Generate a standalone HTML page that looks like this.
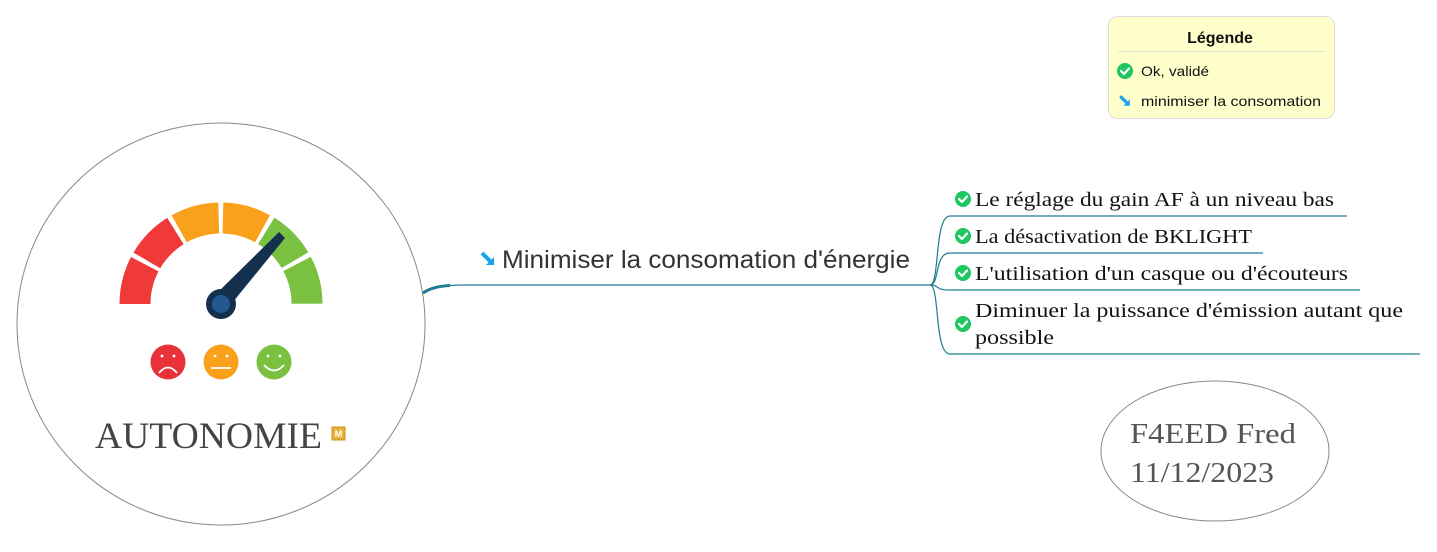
<!DOCTYPE html>
<html><head><meta charset="utf-8"><style>
html,body{margin:0;padding:0;background:#fff;}
svg{display:block}
</style></head><body>
<svg width="1437" height="552" viewBox="0 0 1437 552" xmlns="http://www.w3.org/2000/svg">
<defs>
<g id="chk"><circle r="8" fill="#1ec761"/><path d="M-4,0 L-1,3 L4,-2.5" fill="none" stroke="#fff" stroke-width="2.2" stroke-linecap="round" stroke-linejoin="round"/></g>
<g id="arr"><path d="M-6,-6 L3,3" stroke="#1aa3e8" stroke-width="4"/><path d="M-2,6 L6,6 L6,-2 Z" fill="#1aa3e8"/></g>
</defs>
<ellipse cx="221" cy="324" rx="204" ry="201" fill="#fff" stroke="#888" stroke-width="1"/>
<!-- gauge -->
<g fill="none" stroke-width="31">
<path d="M135,304 A86,86 0 0 1 307,304" pathLength="180" stroke="#f03a3a" stroke-dasharray="27.6 2.88 27.6 400"/>
<path d="M135,304 A86,86 0 0 1 307,304" pathLength="180" stroke="#f9a11b" stroke-dasharray="0 60.96 27.6 2.88 27.6 400"/>
<path d="M135,304 A86,86 0 0 1 307,304" pathLength="180" stroke="#7ac142" stroke-dasharray="0 121.92 27.6 2.88 27.6 400"/>
</g>
<polygon points="214,296 228,308 285,238 279,232" fill="#14304f"/>
<circle cx="221" cy="304" r="15" fill="#14304f"/>
<circle cx="221" cy="304" r="9" fill="#24568f"/>
<circle cx="168" cy="362" r="17.5" fill="#e8323a"/>
<circle cx="221" cy="362" r="17.5" fill="#f9a11b"/>
<circle cx="274" cy="362" r="17.5" fill="#7ac142"/>
<g fill="#fff"><circle cx="162" cy="356" r="1.4"/><circle cx="174" cy="356" r="1.4"/><circle cx="215" cy="356" r="1.4"/><circle cx="227" cy="356" r="1.4"/><circle cx="268" cy="356" r="1.4"/><circle cx="280" cy="356" r="1.4"/></g>
<g fill="none" stroke="#fff" stroke-width="1.8"><path d="M159,373 Q168,362 177,373"/><path d="M211,368 L231,368"/><path d="M264,365 Q274,376 284,365"/></g>
<text x="95" y="448" font-family="Liberation Serif, serif" font-size="37" fill="#444" textLength="227" lengthAdjust="spacingAndGlyphs">AUTONOMIE</text>
<rect x="332" y="427" width="13" height="13" fill="#e8b23a" stroke="#c8901a"/>
<text x="338.5" y="437" font-family="Liberation Sans, sans-serif" font-size="9" font-weight="bold" fill="#fff" text-anchor="middle">M</text>
<!-- main branch -->
<path d="M423,293 C435,286 445,285 465,285 L930,285" fill="none" stroke="#1d7d95" stroke-width="1.3"/>
<path d="M423,293 C430,288 440,286 450,285.5" fill="none" stroke="#1d7d95" stroke-width="3"/>
<use href="#arr" x="488" y="259"/>
<text x="502" y="268" font-family="Liberation Sans, sans-serif" font-size="25" fill="#333" textLength="408" lengthAdjust="spacingAndGlyphs">Minimiser la consomation d'énergie</text>
<!-- children -->
<g fill="none" stroke="#1d7d95" stroke-width="1.2">
<path d="M930,285 C940,285 934,216 950,216 L1347,216"/>
<path d="M930,285 C940,285 934,253 950,253 L1263,253"/>
<path d="M930,285 C940,285 934,290 950,290 L1360,290"/>
<path d="M930,285 C940,285 934,354 950,354 L1420,354"/>
</g>
<g font-family="Liberation Serif, serif" font-size="20" fill="#111">
<use href="#chk" x="963" y="199"/><text x="975" y="206" textLength="359" lengthAdjust="spacingAndGlyphs">Le réglage du gain AF à un niveau bas</text>
<use href="#chk" x="963" y="236"/><text x="975" y="243" textLength="277" lengthAdjust="spacingAndGlyphs">La désactivation de BKLIGHT</text>
<use href="#chk" x="963" y="273"/><text x="975" y="280" textLength="373" lengthAdjust="spacingAndGlyphs">L'utilisation d'un casque ou d'écouteurs</text>
<use href="#chk" x="963" y="324"/><text x="975" y="317" textLength="428" lengthAdjust="spacingAndGlyphs">Diminuer la puissance d'émission autant que</text><text x="975" y="344" textLength="79" lengthAdjust="spacingAndGlyphs">possible</text>
</g>
<!-- legend -->
<rect x="1108.5" y="16.5" width="226" height="102" rx="9" fill="#ffffcc" stroke="#ddd"/>
<text x="1220" y="43" font-family="Liberation Sans, sans-serif" font-size="16" font-weight="bold" text-anchor="middle" fill="#111">Légende</text>
<line x1="1118" y1="51.5" x2="1325" y2="51.5" stroke="#e4e4c8"/>
<use href="#chk" x="1125" y="71"/>
<text x="1141" y="76" font-family="Liberation Sans, sans-serif" font-size="14" fill="#111" textLength="68" lengthAdjust="spacingAndGlyphs">Ok, validé</text>
<use href="#arr" transform="translate(1125 101) scale(0.8)"/>
<text x="1141" y="106" font-family="Liberation Sans, sans-serif" font-size="14" fill="#111" textLength="180" lengthAdjust="spacingAndGlyphs">minimiser la consomation</text>
<!-- author -->
<ellipse cx="1215" cy="451" rx="114" ry="70" fill="#fff" stroke="#888"/>
<text x="1130" y="443" font-family="Liberation Serif, serif" font-size="29" fill="#555" textLength="166" lengthAdjust="spacingAndGlyphs">F4EED Fred</text>
<text x="1130" y="482" font-family="Liberation Serif, serif" font-size="29" fill="#555" textLength="144" lengthAdjust="spacingAndGlyphs">11/12/2023</text>
</svg>
</body></html>
